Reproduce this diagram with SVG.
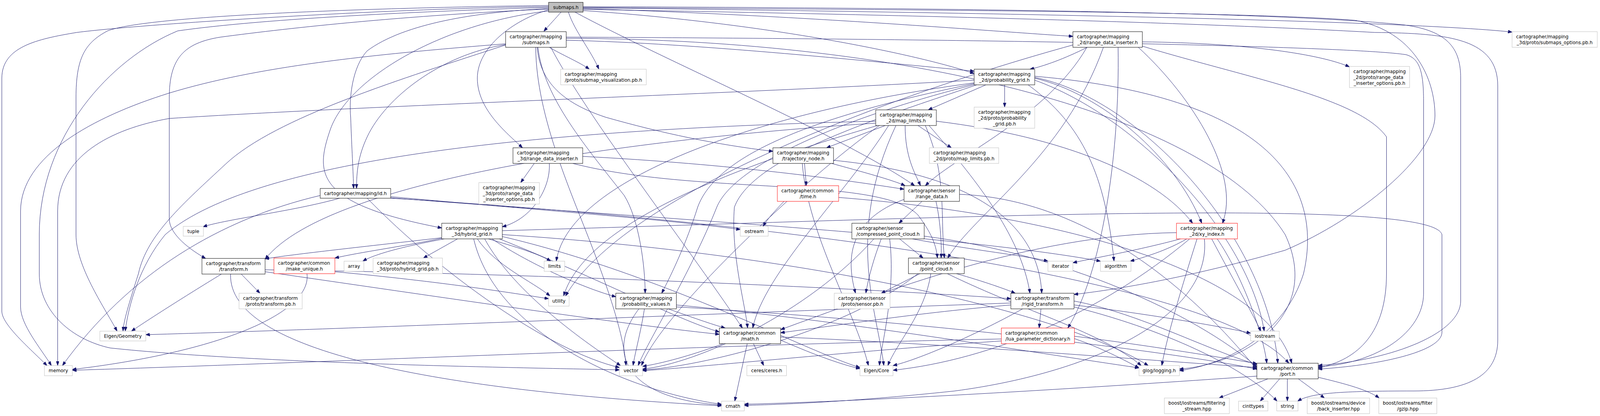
<svg xmlns="http://www.w3.org/2000/svg" width="4355" height="1064" viewBox="0 0 4355 1064">
<style>
text{font-family:"DejaVu Sans","Liberation Sans",sans-serif;font-size:12.67px;fill:#000}
.m{text-anchor:middle}
rect{fill:#fff;stroke-width:1}
.b rect{stroke:#000}
.g rect{stroke:#bfbfbf}
.r rect{stroke:#ff0000}
.s rect{fill:#bfbfbf;stroke:#000}
#edges path{fill:none;stroke:#191970;stroke-width:1;marker-end:url(#ah)}
</style>
<defs>
<marker id="ah" viewBox="0 0 11 8" refX="11" refY="4" markerWidth="11" markerHeight="8" markerUnits="userSpaceOnUse" orient="auto"><path d="M0,0L11,4L0,8z" fill="#191970" stroke="#191970" stroke-width="1"/></marker>
</defs>
<rect x="0" y="0" width="4355" height="1064" fill="#fff" stroke="none"/>
<g id="diagram" transform="scale(0.94,1)">
<g id="edges">
<path d="M1528,31 C1515,45 1495,65 1481,80"/>
<path d="M1548,31 C1565,80 1610,130 1631,177"/>
<path d="M1588,22 C2200,40 2700,80 2922,93"/>
<path d="M1588,20 C2500,30 3800,50 4118,82"/>
<path d="M1588,27 C2100,60 2500,140 2653,188"/>
<path d="M1494,17 C1100,20 400,60 209,83 C100,100 5,120 5,200 L5,796 C5,830 80,890 128,935"/>
<path d="M1494,19 C1100,30 700,50 484,79 C300,150 107,350 107,600 L107,700 C107,800 200,870 300,890 C700,930 1400,940 1687,946"/>
<path d="M1494,14 C1000,20 400,40 293,79 C230,110 207,150 207,250 L207,600 C207,680 280,780 319,847"/>
<path d="M1494,22 C1300,30 1100,60 1000,130 C960,170 950,250 955,300 C958,380 962,440 963,482"/>
<path d="M1494,25 C1400,50 1300,120 1300,200 C1300,280 1380,340 1423,378"/>
<path d="M1494,28 C1200,60 950,200 900,330 C860,440 850,520 1203,583"/>
<path d="M1566,31 C1800,150 2300,350 2491,475"/>
<path d="M1494,23 C1100,40 800,70 600,95 C500,110 461,150 461,250 L461,560 C461,600 520,640 560,661"/>
<path d="M1588,17 C2500,20 3500,30 3826,64 C3950,80 3978,130 3978,200 L3978,770 C3978,850 3800,920 3590,935"/>
<path d="M1588,24 C2600,40 3300,60 3744,83 C3950,85 4079,100 4079,220 L4079,870 C4079,960 4000,1000 3850,1000 C3650,1000 3570,1005 3534,1026"/>
<path d="M1588,19 C2500,25 3400,30 3691,52 C3850,80 3908,200 3908,296 C3908,400 3700,560 3500,640 C3200,720 3000,745 2925,753"/>
<path d="M1496,121 C1530,140 1580,160 1605,177"/>
<path d="M1463,121 C1470,200 1520,260 1650,300 C1800,340 1950,370 2105,387"/>
<path d="M1542,103 C1900,110 2400,160 2653,182"/>
<path d="M1377,114 C1200,140 1050,250 1000,350 C975,400 971,440 971,482"/>
<path d="M1377,112 C1000,140 700,170 461,238 C250,300 56,400 56,540 L56,785 C56,830 110,890 140,935"/>
<path d="M1377,115 C1100,200 750,300 614,420 C500,520 400,600 377,700 C350,780 337,820 335,847"/>
<path d="M1459,121 C1460,300 1560,500 1620,650 C1680,800 1700,880 1705,935"/>
<path d="M1465,121 C1480,250 1600,380 1700,500 C1740,560 1757,680 1757,750"/>
<path d="M1500,121 C1600,300 1850,600 2022,839"/>
<path d="M1542,98 C2500,100 3300,300 3500,600 C3600,800 3400,930 3212,944"/>
<path d="M1542,95 C2800,100 3700,120 3830,140 C3865,150 3877,180 3877,260 L3877,750 C3877,850 3750,930 3590,938"/>
<path d="M2685,217 L2528,281"/>
<path d="M2736,217 L2736,274"/>
<path d="M2653,205 C2000,240 1000,270 461,303 C300,330 157,400 157,540 L157,935"/>
<path d="M2653,212 C2100,280 1550,450 1515,668"/>
<path d="M2653,214 C2200,300 1950,400 1900,530 C1870,620 1830,700 1802,750"/>
<path d="M2660,217 C2400,300 2050,400 2000,530 C1990,650 2030,780 2036,839"/>
<path d="M2655,216 C2300,300 2000,420 1952,530 C1880,700 1760,880 1738,935"/>
<path d="M2818,200 C3000,240 3200,400 3273,571"/>
<path d="M2800,217 C2950,320 3010,450 3034,668"/>
<path d="M2818,205 C3100,300 3400,600 3443,847"/>
<path d="M2818,195 C3500,250 3600,500 3550,700 C3500,850 3350,930 3212,948"/>
<path d="M2818,198 C3100,250 3450,600 3480,929"/>
<path d="M2961,121 C2900,150 2840,170 2805,177"/>
<path d="M3111,107 C3400,110 3600,140 3675,171"/>
<path d="M2960,121 C2850,300 2600,400 2520,475"/>
<path d="M3005,121 C2900,400 2650,550 2581,660"/>
<path d="M3100,121 C3250,250 3380,450 3329,571"/>
<path d="M2922,115 C2400,250 1700,500 1540,757"/>
<path d="M3045,121 C3050,400 3000,700 2908,839"/>
<path d="M3111,118 C3400,200 3700,250 3776,350 L3776,700 C3776,850 3700,920 3590,941"/>
<path d="M2411,321 L2251,378"/>
<path d="M2500,321 L2591,378"/>
<path d="M2465,321 C2465,400 2490,440 2507,475"/>
<path d="M2385,310 C1500,330 700,400 450,600 C380,680 350,780 341,847"/>
<path d="M2385,315 C1800,350 900,450 722,663"/>
<path d="M2390,321 C2100,400 1600,550 1535,757"/>
<path d="M2420,321 C2300,500 2080,700 2050,839"/>
<path d="M2395,321 C2200,450 1800,800 1747,935"/>
<path d="M2550,310 C2900,350 3150,450 3248,571"/>
<path d="M2520,321 C2580,450 2560,550 2572,660"/>
<path d="M2440,321 C2300,600 2390,800 2407,935"/>
<path d="M2530,321 C2650,450 2780,600 2805,750"/>
<path d="M1455,418 L1418,467"/>
<path d="M1496,418 C1500,480 1450,560 1368,580"/>
<path d="M1587,400 C2000,420 2300,460 2462,484"/>
<path d="M1560,418 C1900,500 2400,450 2500,550 C2540,600 2550,630 2553,660"/>
<path d="M2191,418 L2196,475"/>
<path d="M2265,418 C2350,440 2430,460 2465,475"/>
<path d="M2185,418 C2200,600 2330,800 2365,935"/>
<path d="M2270,410 C2700,450 2830,600 2837,750"/>
<path d="M925,507 C800,540 620,560 553,580"/>
<path d="M872,500 C600,560 350,700 170,935"/>
<path d="M1064,503 C1500,540 1800,560 2016,587"/>
<path d="M1064,506 C1800,560 2600,600 2997,668"/>
<path d="M1000,507 C1200,700 1500,900 1687,940"/>
<path d="M1064,507 C2000,560 3300,700 3510,929"/>
<path d="M2135,515 C2110,540 2090,560 2078,579"/>
<path d="M2284,505 C2900,550 3450,700 3518,929"/>
<path d="M2511,515 L2448,571"/>
<path d="M2549,515 C2560,560 2565,620 2563,660"/>
<path d="M2462,510 C2320,560 2300,650 2330,750"/>
<path d="M2613,497 C3000,510 3300,800 3423,946"/>
<path d="M2450,611 L2514,660"/>
<path d="M2400,611 C2380,660 2365,710 2358,750"/>
<path d="M2423,611 C2440,750 2400,880 2395,935"/>
<path d="M2380,611 C2200,800 1900,930 1750,944"/>
<path d="M2485,611 C2650,640 2800,655 2854,668"/>
<path d="M2517,604 C2900,650 3250,800 3423,938"/>
<path d="M2505,700 L2400,750"/>
<path d="M2535,700 C2520,800 2440,880 2418,935"/>
<path d="M2500,700 C2300,850 1900,940 1750,946"/>
<path d="M2605,700 C2680,720 2740,740 2765,750"/>
<path d="M2580,700 C2800,800 3000,850 3108,935"/>
<path d="M1203,608 C1000,630 800,650 722,662"/>
<path d="M1205,609 C1100,630 980,645 912,660"/>
<path d="M1210,611 C1100,630 1020,650 988,668"/>
<path d="M1246,611 L1153,660"/>
<path d="M1330,611 C1400,630 1470,650 1500,668"/>
<path d="M1300,611 C1350,680 1450,720 1498,757"/>
<path d="M1340,611 C1450,680 1600,740 1677,759"/>
<path d="M1360,611 C1600,700 1850,820 1959,849"/>
<path d="M1320,611 C1400,750 1600,880 1690,935"/>
<path d="M1368,605 C1800,700 2200,900 2342,940"/>
<path d="M1290,611 C1350,850 1700,1000 1965,1034"/>
<path d="M1368,600 C2200,650 2900,800 3127,935"/>
<path d="M1368,590 C2500,560 3900,500 3927,600 L3927,850 C3927,900 3750,935 3590,944"/>
<path d="M836,700 C850,800 600,900 197,945"/>
<path d="M912,695 C1200,720 1400,750 1494,764"/>
<path d="M657,701 L708,750"/>
<path d="M603,701 C500,760 400,820 358,847"/>
<path d="M628,701 C620,900 1200,1000 1965,1038"/>
<path d="M722,695 C1200,760 1700,830 1959,855"/>
<path d="M722,690 C1500,700 2400,740 2753,764"/>
<path d="M1820,790 C1880,810 1940,830 1975,839"/>
<path d="M1755,790 C1745,850 1730,900 1724,935"/>
<path d="M1740,790 C1650,900 1700,1020 1965,1036"/>
<path d="M1842,785 C2500,820 3200,900 3423,944"/>
<path d="M1842,780 C2300,820 2800,900 3102,941"/>
<path d="M2035,879 L2001,1026"/>
<path d="M2052,879 L2080,935"/>
<path d="M1970,879 C1880,910 1800,930 1750,937"/>
<path d="M2126,870 C2200,900 2280,930 2342,943"/>
<path d="M2126,862 C2600,880 3100,920 3423,940"/>
<path d="M3215,611 C3100,640 2980,660 2922,672"/>
<path d="M3232,611 C3180,640 3110,660 3078,668"/>
<path d="M3300,611 C3350,700 3410,800 3434,847"/>
<path d="M3260,611 C3230,700 3180,850 3164,935"/>
<path d="M3204,595 C2800,600 2400,750 2126,843"/>
<path d="M3240,611 C3000,800 2700,920 2432,947"/>
<path d="M3280,611 C3300,800 3000,950 2600,1000 C2300,1030 2100,1035 2027,1037"/>
<path d="M3315,611 C3380,700 3440,850 3450,929"/>
<path d="M2835,790 L2830,839"/>
<path d="M2785,790 C2650,860 2500,920 2432,935"/>
<path d="M2753,775 C2000,800 1000,840 397,856"/>
<path d="M2753,780 C2500,800 2300,830 2126,851"/>
<path d="M2925,780 C3100,800 3300,830 3406,852"/>
<path d="M2925,785 C3200,850 3400,950 3478,1026"/>
<path d="M2925,770 C3100,800 3300,900 3423,932"/>
<path d="M2727,867 C2000,880 800,930 197,947"/>
<path d="M2727,872 C2300,900 1900,940 1750,948"/>
<path d="M2926,866 C3000,890 3060,920 3102,941"/>
<path d="M2926,860 C3100,880 3300,910 3423,930"/>
<path d="M3453,969 L3320,1018"/>
<path d="M3485,969 L3432,1026"/>
<path d="M3506,969 L3506,1026"/>
<path d="M3536,969 L3607,1018"/>
<path d="M3590,965 C3680,985 3730,1000 3756,1018"/>
<path d="M3423,962 C3000,990 2400,1025 2027,1034"/>
</g>
<g id="n-submaps" class="s"><rect x="1494" y="6" width="94" height="25"/><text class="m" x="1541" y="23">submaps.h</text></g>
<g id="n-msub" class="b"><rect x="1377" y="81" width="165" height="40"/><text x="1388" y="98">cartographer/mapping</text><text class="m" x="1459.5" y="113">/submaps.h</text></g>
<g id="n-subviz" class="g"><rect x="1527" y="177" width="233" height="40"/><text x="1538" y="194">cartographer/mapping</text><text class="m" x="1643.5" y="209">/proto/submap_visualization.pb.h</text></g>
<g id="n-rdi2d" class="b"><rect x="2922" y="81" width="189" height="40"/><text x="2933" y="98">cartographer/mapping</text><text class="m" x="3016.5" y="113">_2d/range_data_inserter.h</text></g>
<g id="n-subopt" class="g"><rect x="4118" y="81" width="232" height="40"/><text x="4129" y="98">cartographer/mapping</text><text class="m" x="4234" y="113">_3d/proto/submaps_options.pb.h</text></g>
<g id="n-pgrid" class="b"><rect x="2653" y="177" width="165" height="40"/><text x="2664" y="194">cartographer/mapping</text><text class="m" x="2735.5" y="209">_2d/probability_grid.h</text></g>
<g id="n-rdiopt2d" class="g"><rect x="3675" y="170" width="164" height="54"/><text x="3686" y="187">cartographer/mapping</text><text x="3686" y="202">_2d/proto/range_data</text><text class="m" x="3757" y="217">_inserter_options.pb.h</text></g>
<g id="n-maplim" class="b"><rect x="2385" y="281" width="165" height="40"/><text x="2396" y="298">cartographer/mapping</text><text class="m" x="2467.5" y="313">_2d/map_limits.h</text></g>
<g id="n-pgridpb" class="g"><rect x="2653" y="274" width="165" height="54"/><text x="2664" y="291">cartographer/mapping</text><text x="2664" y="306">_2d/proto/probability</text><text class="m" x="2735.5" y="321">_grid.pb.h</text></g>
<g id="n-rdi3d" class="b"><rect x="1397" y="378" width="190" height="40"/><text x="1408" y="395">cartographer/mapping</text><text class="m" x="1492" y="410">_3d/range_data_inserter.h</text></g>
<g id="n-trajnode" class="b"><rect x="2105" y="378" width="165" height="40"/><text x="2116" y="395">cartographer/mapping</text><text class="m" x="2187.5" y="410">/trajectory_node.h</text></g>
<g id="n-maplimpb" class="g"><rect x="2531" y="378" width="189" height="40"/><text x="2542" y="395">cartographer/mapping</text><text class="m" x="2625.5" y="410">_2d/proto/map_limits.pb.h</text></g>
<g id="n-rdiopt3d" class="g"><rect x="1304" y="467" width="165" height="55"/><text x="1315" y="484">cartographer/mapping</text><text x="1315" y="499">_3d/proto/range_data</text><text class="m" x="1386.5" y="514">_inserter_options.pb.h</text></g>
<g id="n-id" class="b"><rect x="872" y="482" width="192" height="25"/><text class="m" x="968" y="499">cartographer/mapping/id.h</text></g>
<g id="n-time" class="r"><rect x="2117" y="475" width="167" height="40"/><text x="2128" y="492">cartographer/common</text><text class="m" x="2200.5" y="507">/time.h</text></g>
<g id="n-rangedata" class="b"><rect x="2462" y="475" width="151" height="40"/><text x="2473" y="492">cartographer/sensor</text><text class="m" x="2537.5" y="507">/range_data.h</text></g>
<g id="n-tuple" class="g"><rect x="499" y="579" width="55" height="25"/><text class="m" x="526.5" y="596">tuple</text></g>
<g id="n-transform" class="b"><rect x="550" y="661" width="172" height="40"/><text x="561" y="678">cartographer/transform</text><text class="m" x="636" y="693">/transform.h</text></g>
<g id="n-transformpb" class="g"><rect x="651" y="750" width="172" height="40"/><text x="662" y="767">cartographer/transform</text><text class="m" x="737" y="782">/proto/transform.pb.h</text></g>
<g id="n-eigengeo" class="g"><rect x="272" y="847" width="125" height="25"/><text class="m" x="334.5" y="864">Eigen/Geometry</text></g>
<g id="n-memory" class="g"><rect x="121" y="935" width="76" height="26"/><text class="m" x="159" y="952">memory</text></g>
<g id="n-makeunique" class="r"><rect x="746" y="660" width="166" height="40"/><text x="757" y="677">cartographer/common</text><text class="m" x="829" y="692">/make_unique.h</text></g>
<g id="n-array" class="g"><rect x="937" y="668" width="54" height="26"/><text class="m" x="964" y="685">array</text></g>
<g id="n-hgridpb" class="g"><rect x="1016" y="660" width="189" height="40"/><text x="1027" y="677">cartographer/mapping</text><text class="m" x="1110.5" y="692">_3d/proto/hybrid_grid.pb.h</text></g>
<g id="n-hgrid" class="b"><rect x="1203" y="571" width="165" height="40"/><text x="1214" y="588">cartographer/mapping</text><text class="m" x="1285.5" y="603">_3d/hybrid_grid.h</text></g>
<g id="n-limits" class="g"><rect x="1482" y="668" width="56" height="26"/><text class="m" x="1510" y="685">limits</text></g>
<g id="n-utility" class="g"><rect x="1494" y="757" width="56" height="26"/><text class="m" x="1522" y="774">utility</text></g>
<g id="n-ostream" class="g"><rect x="2016" y="579" width="76" height="25"/><text class="m" x="2054" y="596">ostream</text></g>
<g id="n-probvals" class="b"><rect x="1677" y="750" width="165" height="40"/><text x="1688" y="767">cartographer/mapping</text><text class="m" x="1759.5" y="782">/probability_values.h</text></g>
<g id="n-math" class="b"><rect x="1959" y="839" width="167" height="40"/><text x="1970" y="856">cartographer/common</text><text class="m" x="2042.5" y="871">/math.h</text></g>
<g id="n-vector" class="g"><rect x="1687" y="935" width="63" height="26"/><text class="m" x="1718.5" y="952">vector</text></g>
<g id="n-ceres" class="g"><rect x="2034" y="935" width="108" height="26"/><text class="m" x="2088" y="952">ceres/ceres.h</text></g>
<g id="n-cmath" class="g"><rect x="1965" y="1026" width="62" height="25"/><text class="m" x="1996" y="1043">cmath</text></g>
<g id="n-cpc" class="b"><rect x="2320" y="571" width="197" height="40"/><text x="2331" y="588">cartographer/sensor</text><text class="m" x="2418.5" y="603">/compressed_point_cloud.h</text></g>
<g id="n-pointcloud" class="b"><rect x="2474" y="660" width="152" height="40"/><text x="2485" y="677">cartographer/sensor</text><text class="m" x="2550" y="692">/point_cloud.h</text></g>
<g id="n-sensorpb" class="g"><rect x="2272" y="750" width="152" height="40"/><text x="2283" y="767">cartographer/sensor</text><text class="m" x="2348" y="782">/proto/sensor.pb.h</text></g>
<g id="n-eigencore" class="g"><rect x="2342" y="935" width="90" height="26"/><text class="m" x="2387" y="952">Eigen/Core</text></g>
<g id="n-rigid" class="b"><rect x="2753" y="750" width="172" height="40"/><text x="2764" y="767">cartographer/transform</text><text class="m" x="2839" y="782">/rigid_transform.h</text></g>
<g id="n-lua" class="r"><rect x="2727" y="839" width="199" height="40"/><text x="2738" y="856">cartographer/common</text><text class="m" x="2826.5" y="871">/lua_parameter_dictionary.h</text></g>
<g id="n-iterator" class="g"><rect x="2854" y="668" width="68" height="26"/><text class="m" x="2888" y="685">iterator</text></g>
<g id="n-algorithm" class="g"><rect x="2997" y="668" width="83" height="26"/><text class="m" x="3038.5" y="685">algorithm</text></g>
<g id="n-xyindex" class="r"><rect x="3204" y="571" width="166" height="40"/><text x="3215" y="588">cartographer/mapping</text><text class="m" x="3287" y="603">_2d/xy_index.h</text></g>
<g id="n-iostream" class="g"><rect x="3406" y="847" width="78" height="25"/><text class="m" x="3445" y="864">iostream</text></g>
<g id="n-glog" class="g"><rect x="3102" y="935" width="110" height="26"/><text class="m" x="3157" y="952">glog/logging.h</text></g>
<g id="n-port" class="b"><rect x="3423" y="929" width="167" height="40"/><text x="3434" y="946">cartographer/common</text><text class="m" x="3506.5" y="961">/port.h</text></g>
<g id="n-filtering" class="g"><rect x="3171" y="1018" width="177" height="40"/><text x="3182" y="1035">boost/iostreams/filtering</text><text class="m" x="3259.5" y="1050">_stream.hpp</text></g>
<g id="n-cinttypes" class="g"><rect x="3373" y="1026" width="80" height="25"/><text class="m" x="3413" y="1043">cinttypes</text></g>
<g id="n-string" class="g"><rect x="3477" y="1026" width="58" height="25"/><text class="m" x="3506" y="1043">string</text></g>
<g id="n-backins" class="g"><rect x="3560" y="1018" width="170" height="40"/><text x="3571" y="1035">boost/iostreams/device</text><text class="m" x="3645" y="1050">/back_inserter.hpp</text></g>
<g id="n-gzip" class="g"><rect x="3755" y="1018" width="158" height="40"/><text x="3766" y="1035">boost/iostreams/filter</text><text class="m" x="3834" y="1050">/gzip.hpp</text></g>
</g>
</svg>
